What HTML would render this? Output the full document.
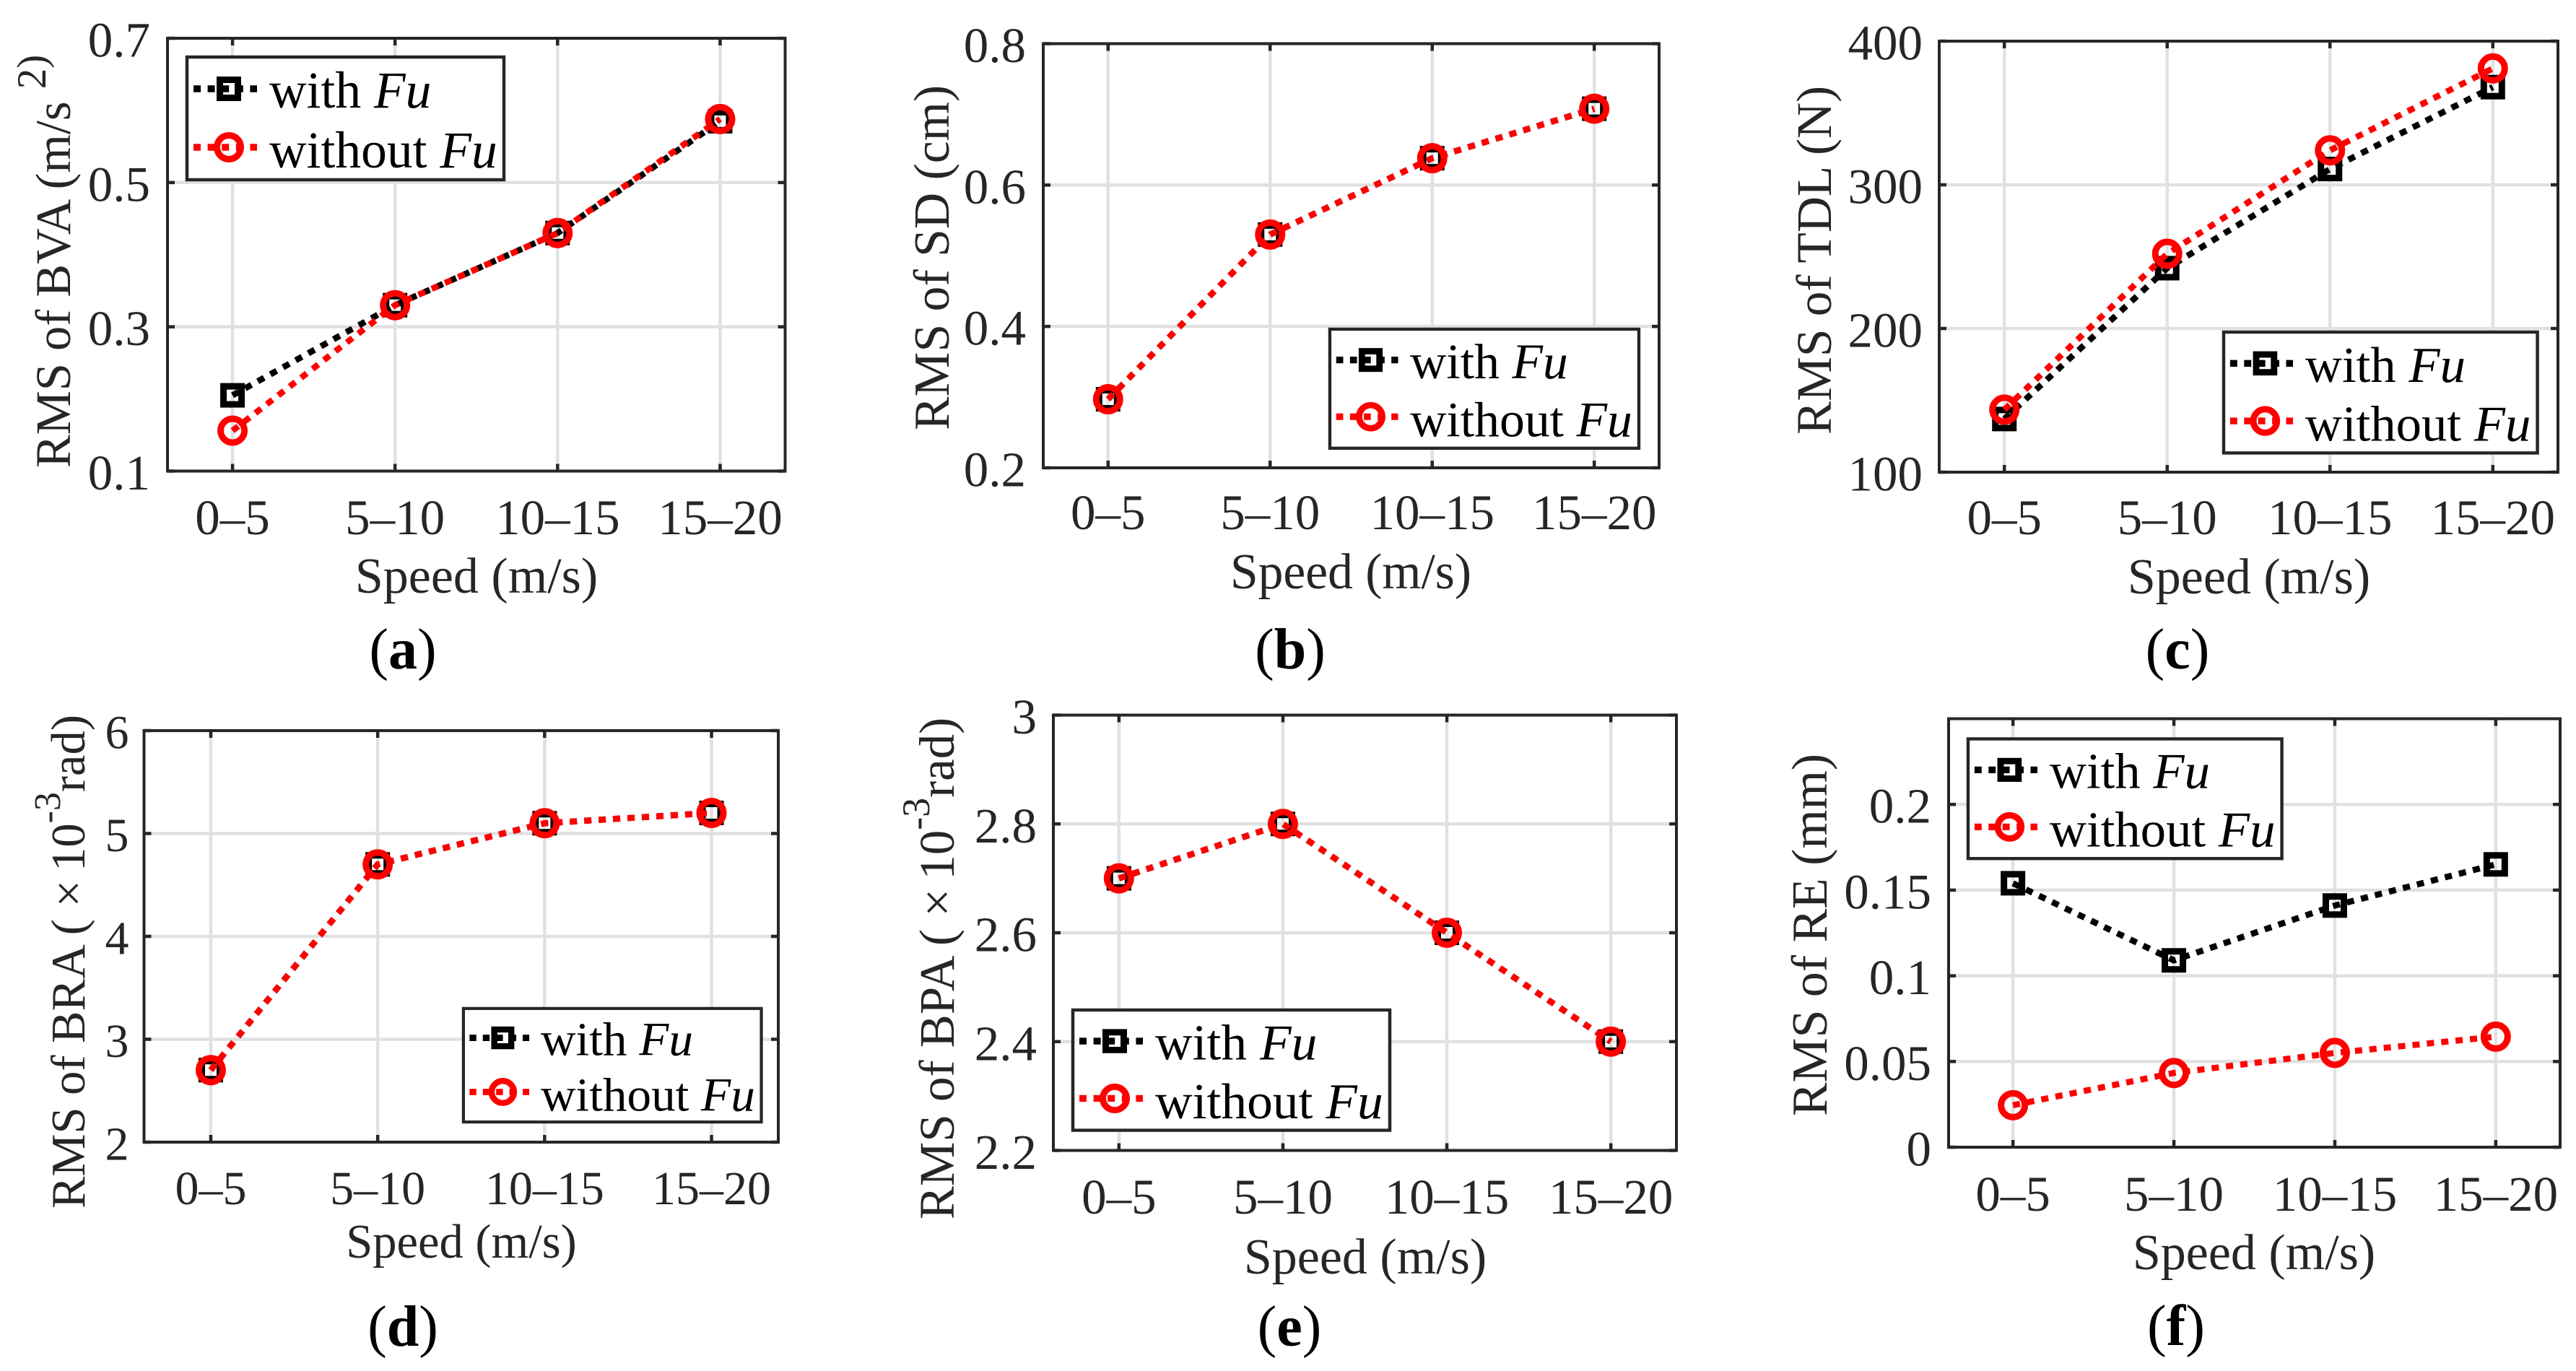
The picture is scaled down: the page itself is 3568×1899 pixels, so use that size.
<!DOCTYPE html>
<html lang="en">
<head>
<meta charset="utf-8">
<title>RMS comparison with and without Fu</title>
<style>
html,body{margin:0;padding:0;background:#fff;width:3568px;height:1899px;overflow:hidden}
svg{display:block;font-family:"Liberation Serif",serif}
.axt{fill:#262626}
.leg{fill:#000;font-size:71.5px}
.cap{fill:#000;font-size:80px;text-anchor:middle}
</style>
</head>
<body>
<svg xmlns="http://www.w3.org/2000/svg" width="3568" height="1899" viewBox="0 0 3568 1899">
<defs>
<g id="legend-body">
<rect x="2" y="2" width="439" height="170" fill="#fff" stroke="#262626" stroke-width="4.5"/>
<line x1="11" y1="46" x2="99" y2="46" stroke="#000" stroke-width="9.5" stroke-dasharray="10 9.6"/>
<rect x="47.5" y="33.5" width="25" height="25" fill="none" stroke="#000" stroke-width="9"/>
<line x1="11" y1="127" x2="99" y2="127" stroke="#f00" stroke-width="9.5" stroke-dasharray="10 9.6"/>
<circle cx="60" cy="127" r="16.5" fill="none" stroke="#f00" stroke-width="9"/>
</g>
</defs>

<g>
<g id="plot-a"></g>
<text class="axt" transform="translate(97,648) rotate(-90)" font-size="68.6">RMS of BVA (m/s <tspan dy="-34" font-size="57">2)</tspan></text>
<text class="axt" x="660" y="821" font-size="70" text-anchor="middle">Speed (m/s)</text>
<text class="cap" x="558" y="926">(<tspan font-weight="bold">a</tspan>)</text>
<g transform="translate(257,77)">
<use href="#legend-body"/>
<text class="leg" x="116" y="72">with <tspan font-style="italic">Fu</tspan></text>
<text class="leg" x="116" y="155">without <tspan font-style="italic">Fu</tspan></text>
</g>
</g>

<g>
<g id="plot-b"></g>
<text class="axt" transform="translate(1314,596) rotate(-90)" font-size="69.7">RMS of SD (cm)</text>
<text class="axt" x="1871" y="815" font-size="69.5" text-anchor="middle">Speed (m/s)</text>
<text class="cap" x="1787" y="926">(<tspan font-weight="bold">b</tspan>)</text>
<g transform="translate(1840,454) scale(.975,.97)">
<use href="#legend-body"/>
<text class="leg" x="116" y="72">with <tspan font-style="italic">Fu</tspan></text>
<text class="leg" x="116" y="155">without <tspan font-style="italic">Fu</tspan></text>
</g>
</g>

<g>
<g id="plot-c"></g>
<text class="axt" transform="translate(2536,602) rotate(-90)" font-size="69.3">RMS of TDL (N)</text>
<text class="axt" x="3115" y="822" font-size="70" text-anchor="middle">Speed (m/s)</text>
<text class="cap" x="3016" y="926">(<tspan font-weight="bold">c</tspan>)</text>
<g transform="translate(3078,458) scale(.99,.985)">
<use href="#legend-body"/>
<text class="leg" x="116" y="72">with <tspan font-style="italic">Fu</tspan></text>
<text class="leg" x="116" y="155">without <tspan font-style="italic">Fu</tspan></text>
</g>
</g>

<g>
<g id="plot-d"></g>
<text class="axt" transform="translate(117,1674) rotate(-90)" font-size="66.5">RMS of BRA ( ×<tspan dx="12">10</tspan><tspan dy="-34" font-size="52">-3</tspan><tspan dy="34">rad)</tspan></text>
<text class="axt" x="639" y="1742" font-size="66.5" text-anchor="middle">Speed (m/s)</text>
<text class="cap" x="558" y="1864">(<tspan font-weight="bold">d</tspan>)</text>
<g transform="translate(640,1395) scale(.94,.925)">
<use href="#legend-body"/>
<text class="leg" x="116" y="72">with <tspan font-style="italic">Fu</tspan></text>
<text class="leg" x="116" y="155">without <tspan font-style="italic">Fu</tspan></text>
</g>
</g>

<g>
<g id="plot-e"></g>
<text class="axt" transform="translate(1321,1689) rotate(-90)" font-size="69">RMS of BPA ( ×<tspan dx="12">10</tspan><tspan dy="-34" font-size="54">-3</tspan><tspan dy="34">rad)</tspan></text>
<text class="axt" x="1891" y="1764" font-size="70" text-anchor="middle">Speed (m/s)</text>
<text class="cap" x="1786" y="1864">(<tspan font-weight="bold">e</tspan>)</text>
<g transform="translate(1484,1397) scale(1,.98)">
<use href="#legend-body"/>
<text class="leg" x="116" y="72">with <tspan font-style="italic">Fu</tspan></text>
<text class="leg" x="116" y="155">without <tspan font-style="italic">Fu</tspan></text>
</g>
</g>

<g>
<g id="plot-f"></g>
<text class="axt" transform="translate(2530,1546) rotate(-90)" font-size="69.8">RMS of RE (mm)</text>
<text class="axt" x="3122" y="1758" font-size="70" text-anchor="middle">Speed (m/s)</text>
<text class="cap" x="3014" y="1863">(<tspan font-weight="bold">f</tspan>)</text>
<g transform="translate(2724,1021.5) scale(.99,.975)">
<use href="#legend-body"/>
<text class="leg" x="116" y="72">with <tspan font-style="italic">Fu</tspan></text>
<text class="leg" x="116" y="155">without <tspan font-style="italic">Fu</tspan></text>
</g>
</g>
</svg>

<script>
const categories = ['0–5', '5–10', '10–15', '15–20'];

const ticksA = ['0.1', '0.3', '0.5', '0.7'];
const withFuA = [0.205, 0.33, 0.43, 0.585];
const withoutFuA = [0.156, 0.33, 0.43, 0.588];

const ticksB = ['0.2', '0.4', '0.6', '0.8'];
const withFuB = [0.297, 0.53, 0.638, 0.708];
const withoutFuB = [0.297, 0.53, 0.638, 0.708];

const ticksC = ['100', '200', '300', '400'];
const withFuC = [137, 242, 311, 368];
const withoutFuC = [143.5, 252, 324, 381];

const ticksD = ['2', '3', '4', '5', '6'];
const withFuD = [2.7, 4.7, 5.1, 5.2];
const withoutFuD = [2.7, 4.7, 5.1, 5.2];

const ticksE = ['2.2', '2.4', '2.6', '2.8', '3'];
const withFuE = [2.7, 2.8, 2.6, 2.4];
const withoutFuE = [2.7, 2.8, 2.6, 2.4];

const ticksF = ['0', '0.05', '0.1', '0.15', '0.2'];
const withFuF = [0.154, 0.109, 0.141, 0.165];
const withoutFuF = [0.0245, 0.0433, 0.055, 0.0645];

const panels = [
  {id:'a', box:[232,1087.5,53,652.5],     yLim:[0.1,0.7], ticks:ticksA, withFu:withFuA, withoutFu:withoutFuA, font:69,   xBase:740,  gap:24},
  {id:'b', box:[1445,2298,60.5,648],      yLim:[0.2,0.8], ticks:ticksB, withFu:withFuB, withoutFu:withoutFuB, font:69,   xBase:733,  gap:24},
  {id:'c', box:[2686,3543,57,654],        yLim:[100,400], ticks:ticksC, withFu:withFuC, withoutFu:withoutFuC, font:69,   xBase:740,  gap:23},
  {id:'d', box:[199.5,1078,1012,1582],    yLim:[2,6],     ticks:ticksD, withFu:withFuD, withoutFu:withoutFuD, font:66,   xBase:1668, gap:21},
  {id:'e', box:[1459,2322,990.5,1593.5],  yLim:[2.2,3],   ticks:ticksE, withFu:withFuE, withoutFu:withoutFuE, font:69,   xBase:1681, gap:23},
  {id:'f', box:[2699,3546,995.5,1589],    yLim:[0,0.25],  ticks:ticksF, withFu:withFuF, withoutFu:withoutFuF, font:69,   xBase:1677, gap:24}
];

const NS = 'http://www.w3.org/2000/svg';
function el(tag, attrs, parent) {
  const node = document.createElementNS(NS, tag);
  for (const k in attrs) node.setAttribute(k, attrs[k]);
  parent.appendChild(node);
  return node;
}

function drawSeries(root, values, color, kind, xScale, yScale) {
  const pts = values.map((v, i) => xScale(i) + ',' + yScale(v)).join(' ');
  const line = el('polyline', {points: pts, fill: 'none', stroke: color, 'stroke-width': 8.5, 'stroke-dasharray': '10 10'}, root);
  
  
  values.forEach((v, i) => {
    const cx = xScale(i), cy = yScale(v);
    let mark;
    if (kind === 'square') {
      mark = el('rect', {x: cx - 12.5, y: cy - 12.5, width: 25, height: 25, fill: 'none', stroke: color, 'stroke-width': 9}, root);
      
      
    } else {
      mark = el('circle', {cx: cx, cy: cy, r: 16.5, fill: 'none', stroke: color, 'stroke-width': 9}, root);
      
      
    }
  });
}

panels.forEach(p => {
  const root = document.getElementById('plot-' + p.id);
  const [left, right, top, bottom] = p.box;
  const xScale = i => left + (i + 0.4) / 3.8 * (right - left);
  const yScale = v => bottom - (v - p.yLim[0]) / (p.yLim[1] - p.yLim[0]) * (bottom - top);

  categories.forEach((c, i) => {
    const g = el('line', {x1: xScale(i), x2: xScale(i), y1: top, y2: bottom, stroke: '#e1e1e1', 'stroke-width': 4.5}, root);
    
    
  });
  p.ticks.forEach(t => {
    const y = yScale(Number(t));
    const g = el('line', {x1: left, x2: right, y1: y, y2: y, stroke: '#e1e1e1', 'stroke-width': 4.5}, root);
    
    
  });

  const frame = el('rect', {x: left, y: top, width: right - left, height: bottom - top, fill: 'none', stroke: '#262626', 'stroke-width': 4}, root);
  
  

  categories.forEach((c, i) => {
    const x = xScale(i);
    [[bottom, bottom - 10], [top, top + 10]].forEach(seg => {
      const tk = el('line', {x1: x, x2: x, y1: seg[0], y2: seg[1], stroke: '#262626', 'stroke-width': 4.5}, root);
      
      
    });
    const lab = el('text', {x: x, y: p.xBase, 'font-size': p.font, 'text-anchor': 'middle', fill: '#262626'}, root);
    lab.textContent = c;
    
    
  });

  p.ticks.forEach(t => {
    const y = yScale(Number(t));
    [[left, left + 10], [right, right - 10]].forEach(seg => {
      const tk = el('line', {x1: seg[0], x2: seg[1], y1: y, y2: y, stroke: '#262626', 'stroke-width': 4.5}, root);
      
      
    });
    const lab = el('text', {x: left - p.gap, y: y + p.font * 0.37, 'font-size': p.font, 'text-anchor': 'end', fill: '#262626'}, root);
    lab.textContent = t;
    
    
  });

  drawSeries(root, p.withFu, '#000', 'square', xScale, yScale);
  drawSeries(root, p.withoutFu, '#f00', 'circle', xScale, yScale);
});
</script>
</body>
</html>
